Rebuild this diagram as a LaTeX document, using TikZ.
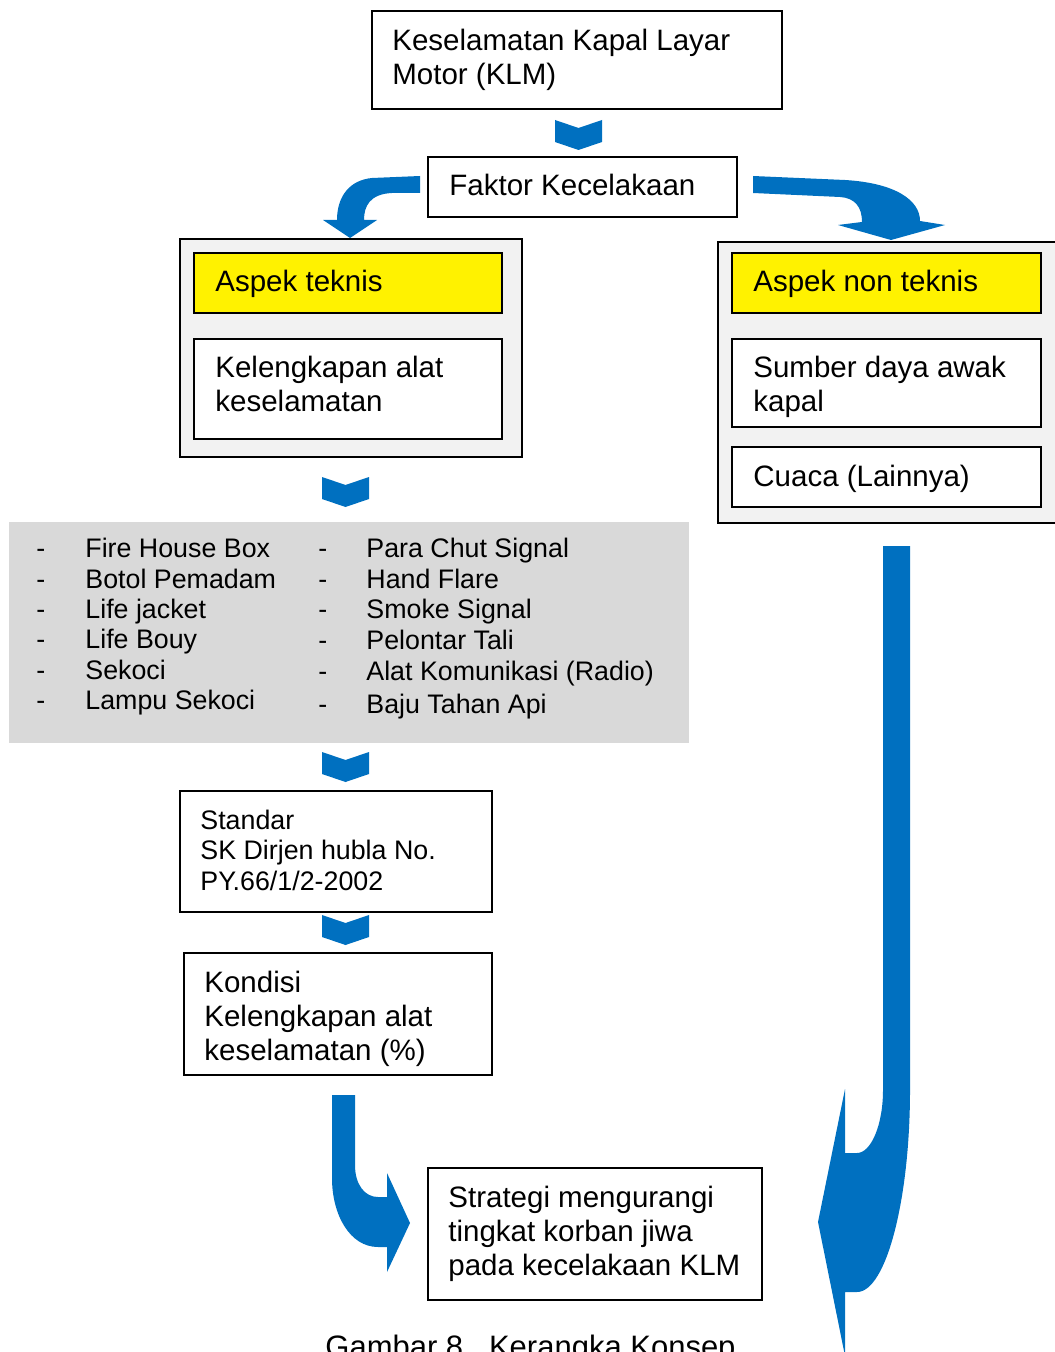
\documentclass[tikz,border=0pt]{standalone}
\usepackage{fontspec}
\setmainfont{Liberation Sans}
\definecolor{klmblue}{HTML}{0070C0}
\definecolor{panelgray}{HTML}{F2F2F2}
\definecolor{listgray}{HTML}{D9D9D9}
\newcommand{\boxfont}{\fontsize{14.75}{17}\selectfont}
\newcommand{\listfont}{\fontsize{13.4}{15.25}\selectfont}
\newcommand{\klmlines}[1]{\begin{tabular}[t]{@{}l@{}}#1\end{tabular}}
\tikzset{
  box/.style={draw=black,line width=1pt,fill=white},
  panel/.style={draw=black,line width=1pt,fill=panelgray},
  hilite/.style={draw=black,line width=1pt,fill=yellow},
  txt/.style={anchor=base west,inner sep=0pt,font=\boxfont},
  item/.style={anchor=base west,inner sep=0pt,font=\listfont},
  chev/.pic={\fill[klmblue] (0,0) -- (23.5,8) -- (47,0) -- (47,22) -- (23.5,30) -- (0,22) -- cycle;}
}
\begin{document}
\begin{tikzpicture}[x=0.5pt,y=-0.5pt,line join=miter]
\useasboundingbox (0,0) rectangle (1054,1352);
% kotak atas
\draw[box] (372,11) rectangle (782,109);
\node[txt] (klm) at (392,51) {\klmlines{Keselamatan Kapal Layar\\Motor (KLM)}};
\pic at (555,120) {chev};
\draw[box] (428,157) rectangle (737,217);
\node[txt] (faktor) at (449,196) {Faktor Kecelakaan};
% panah lengkung kiri dan kanan
\fill[klmblue] (420,176) -- (372,178) .. controls (350,180) and (337,196) .. (337,220) -- (323,220) -- (350,238) -- (377,220) -- (364,220) .. controls (364,206) and (370,194) .. (392,193) -- (420,193) -- cycle;
\fill[klmblue] (753,176) -- (845,180) .. controls (895,183) and (920,200) .. (920,221) -- (945,225) -- (891,240) -- (838,225) -- (862,222) .. controls (862,207) and (855,198) .. (840,197) -- (753,193) -- cycle;
% aspek teknis
\draw[panel] (180,239) rectangle (522,457);
\draw[hilite] (194,253) rectangle (502,313);
\node[txt] (teknis) at (215,292) {Aspek teknis};
\draw[box] (194,339) rectangle (502,439);
\node[txt] (alat) at (215,378) {\klmlines{Kelengkapan alat\\keselamatan}};
% aspek non teknis
\draw[panel] (718,242) rectangle (1064,523);
\draw[hilite] (732,253) rectangle (1041,313);
\node[txt] (nonteknis) at (753,292) {Aspek non teknis};
\draw[box] (732,339) rectangle (1041,427);
\node[txt] (awak) at (753,378) {\klmlines{Sumber daya awak\\kapal}};
\draw[box] (732,447) rectangle (1041,507);
\node[txt] (cuaca) at (753,486) {Cuaca (Lainnya)};
\pic at (322,477) {chev};
% daftar alat keselamatan
\fill[listgray] (9,522) rectangle (689,743);
\foreach \t/\y [count=\i] in {Fire House Box/557,Botol Pemadam/588,Life jacket/618,Life Bouy/648,Sekoci/679,Lampu Sekoci/709}{
  \node[item] (dki\i) at (36,\y) {-};
  \node[item] (kiri\i) at (85,\y) {\t};}
\foreach \t/\y [count=\i] in {Para Chut Signal/557,Hand Flare/588,Smoke Signal/618,Pelontar Tali/649,Alat Komunikasi (Radio)/680,Baju Tahan Api/713}{
  \node[item] (dka\i) at (318,\y) {-};
  \node[item] (kanan\i) at (366,\y) {\t};}
\pic at (322,752) {chev};
% standar dan kondisi
\draw[box] (180,791) rectangle (492,912);
\node[item] (standar) at (200,829) {\klmlines{Standar\\SK Dirjen hubla No.\\PY.66/1/2-2002}};
\pic at (322,915) {chev};
\draw[box] (184,953) rectangle (492,1075);
\node[txt] (kondisi) at (204,992) {\klmlines{Kondisi\\Kelengkapan alat\\keselamatan (\%)}};
% strategi
\draw[box] (428,1168) rectangle (762,1300);
\node[txt] (strategi) at (448,1207) {\klmlines{Strategi mengurangi\\tingkat korban jiwa\\pada kecelakaan KLM}};
\fill[klmblue] (332,1095) -- (355,1095) -- (355,1165) .. controls (355,1185) and (365,1197) .. (378,1197) -- (387,1197) -- (387,1173) -- (410,1223) -- (387,1272) -- (387,1247) -- (378,1247) .. controls (350,1247) and (332,1215) .. (332,1178) -- cycle;
\fill[klmblue] (883,546) -- (910,546) -- (910,1090) .. controls (910,1200) and (886,1292) .. (857,1292) -- (845,1292) -- (845,1356) -- (818,1222) -- (845,1089) -- (845,1153) -- (857,1153) .. controls (871,1153) and (883,1125) .. (883,1090) -- cycle;
% judul gambar
\node[anchor=base west,inner sep=0pt,font=\fontsize{15.5}{18}\selectfont] (judul) at (325,1357) {Gambar 8.\ \ Kerangka Konsep};
\end{tikzpicture}
\end{document}
